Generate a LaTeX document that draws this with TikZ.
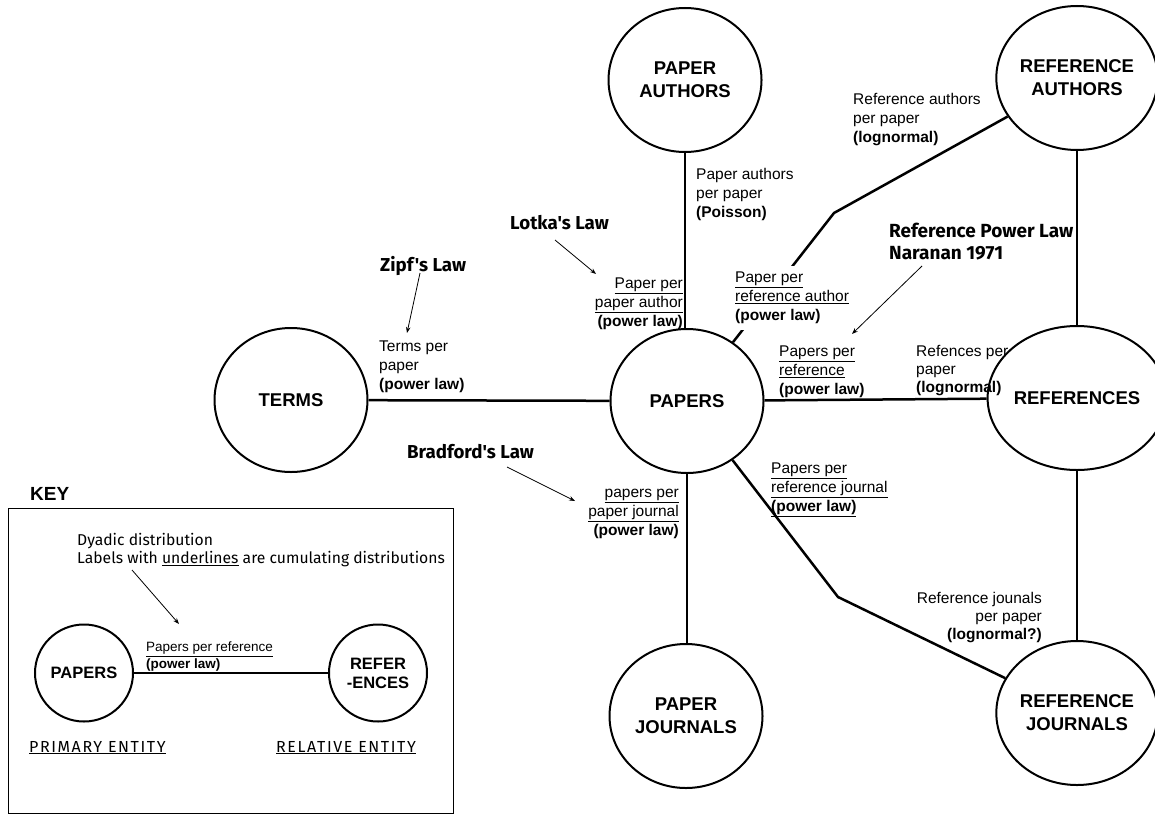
\documentclass[tikz,border=0pt]{standalone}
\usepackage{fontspec}
\setmainfont{Liberation Sans}
\newfontfamily\handfont{Fira Sans}
\usetikzlibrary{shapes.geometric,arrows.meta}

% font sizes (1pt = 1 unit of the picture)
\newcommand\entfont{\bfseries\fontsize{18.5}{23}\selectfont}
\newcommand\keyentfont{\bfseries\fontsize{16.5}{19}\selectfont}
\newcommand\notefont{\fontsize{15.5}{18.8}\selectfont}
\newcommand\smallnotefont{\fontsize{13.5}{17}\selectfont}
\newcommand\lawfont{\handfont\bfseries\fontsize{18.7}{22}\selectfont}
\newcommand\keytextfont{\handfont\fontsize{15.7}{18}\selectfont}
\newcommand\keycapsfont{\handfont\addfontfeatures{LetterSpace=10}\fontsize{16}{18}\selectfont}

\tikzset{
  entity/.style={ellipse, draw, line width=2pt, minimum width=153pt,
    minimum height=144pt, inner sep=0pt, align=center, font=\entfont},
  keyentity/.style={ellipse, draw, line width=2pt, minimum width=98pt,
    minimum height=97pt, inner sep=0pt, align=center, font=\keyentfont},
  link/.style={line width=2.5pt},
  note/.style={inner sep=0pt, font=\notefont, anchor=base west, align=left},
  rnote/.style={inner sep=0pt, font=\notefont, anchor=base east, align=right},
  law/.style={inner sep=0pt, font=\lawfont, anchor=base west, align=left},
  pointer/.style={line width=0.8pt, -{Stealth[length=6pt,width=4.5pt]}},
}

\begin{document}
\begin{tikzpicture}[x=1pt, y=-1pt]
\useasboundingbox (0,0) rectangle (1155,816);

% entities
\node[entity] (pa)   at (685,80)   {PAPER\\AUTHORS};
\node[entity] (ra)   at (1077,78)  {REFERENCE\\AUTHORS};
\node[entity] (terms) at (291,400) {TERMS};
\node[entity] (papers) at (687,401) {PAPERS};
\node[entity] (refs) at (1077,398) {REFERENCES};
\node[entity] (pj)   at (686,716)  {PAPER\\JOURNALS};
\node[entity] (rj)   at (1077,713) {REFERENCE\\JOURNALS};

% bend points of the two broken links
\coordinate (raBend) at (834,213);
\coordinate (rjBend) at (838,597);

% links
\draw[link] (terms) -- (papers);
\draw[link] (papers) -- (refs);
\draw[link] (pa.south) -- (pa.south |- papers.north);
\draw[link] (papers.south) -- (papers.south |- pj.north);
\draw[link] (ra.south) -- (ra.south |- refs.north);
\draw[link] (refs.south) -- (refs.south |- rj.north);
\draw[link] (ra) -- (raBend) -- (papers);
\draw[link] (papers) -- (rjBend) -- (rj);

% distribution labels (anchored at the baseline of their last line)
\node[note] (nPA) at (696,217.5)
  {Paper authors\\per paper\\\textbf{(Poisson)}};
\node[note] (nRA) at (853,142.5)
  {Reference authors\\per paper\\\textbf{(lognormal)}};
\node[note] (nTerms) at (379,389.5)
  {Terms per\\paper\\\textbf{(power law)}};
\node[rnote] (nPPA) at (683,326.5)
  {\underline{Paper per}\\\underline{paper author}\\\textbf{(power law)}};
\node[note, fill=white, inner xsep=12pt, inner ysep=6pt] (nPRA) at (723,320.5)
  {\underline{Paper per}\\\underline{reference author}\\\textbf{(power law)}};
\node[note] (nPR) at (779,394.5)
  {\underline{Papers per}\\\underline{reference}\\\textbf{(power law)}};
\node[note, font=\fontsize{15.5}{18}\selectfont] (nRP) at (916,392.5)
  {Refences per\\paper\\\textbf{(lognormal)}};
\node[rnote] (nPPJ) at (679,535.5)
  {\underline{papers per}\\\underline{paper journal}\\\textbf{(power law)}};
\node[note] (nPRJ) at (771,511.5)
  {\underline{Papers per}\\\underline{reference journal}\\\underline{\textbf{(power law)}}};
\node[rnote, font=\fontsize{15.5}{18}\selectfont] (nRJP) at (1042,639.5)
  {Reference jounals\\per paper\\\textbf{(lognormal?)}};

% named laws
\node[law] (lotka) at (510,229.5) {Lotka's Law};
\node[law] (zipf) at (380,271.5) {Zipf's Law};
\node[law, font=\handfont\bfseries\fontsize{19}{22}\selectfont] (naranan) at (889,259)
  {Reference Power Law\\Naranan 1971};
\node[law] (bradford) at (407,458.5) {Bradford's Law};

\coordinate (lotkaFrom) at (555,240);  \coordinate (lotkaTo) at (596,274);
\coordinate (zipfFrom) at (420,273);   \coordinate (zipfTo) at (407,333);
\coordinate (narFrom) at (922,266);    \coordinate (narTo) at (852,334);
\coordinate (bradFrom) at (507,467);   \coordinate (bradTo) at (575,501);
\draw[pointer] (lotkaFrom) -- (lotkaTo);
\draw[pointer] (zipfFrom) -- (zipfTo);
\draw[pointer] (narFrom) -- (narTo);
\draw[pointer] (bradFrom) -- (bradTo);

% key
\node[inner sep=0pt, anchor=base west, font=\bfseries\fontsize{19}{22}\selectfont]
  (keyTitle) at (30,500) {KEY};
\draw[line width=1pt] (8,508) rectangle (453,813);
\node[inner sep=0pt, anchor=base west, align=left, font=\keytextfont] (keyText) at (77,563.5)
  {Dyadic distribution\\Labels with \underline{underlines} are cumulating distributions};
\node[keyentity] (kPapers) at (84,673) {PAPERS};
\node[keyentity] (kRefs) at (378,673) {REFER\\-ENCES};
\draw[link] (kPapers) -- (kRefs);
\node[inner sep=0pt, anchor=base west, align=left, font=\smallnotefont] (kLabel) at (146,668.5)
  {\underline{Papers per reference}\\\textbf{(power law)}};
\coordinate (keyFrom) at (132,570); \coordinate (keyTo) at (179,624);
\draw[pointer] (keyFrom) -- (keyTo);
\node[inner sep=0pt, anchor=base west, font=\keycapsfont] (kPrimary) at (29,752)
  {\underline{PRIMARY ENTITY}};
\node[inner sep=0pt, anchor=base west, font=\keycapsfont] (kRelative) at (276,752)
  {\underline{RELATIVE ENTITY}};
\end{tikzpicture}
\end{document}
